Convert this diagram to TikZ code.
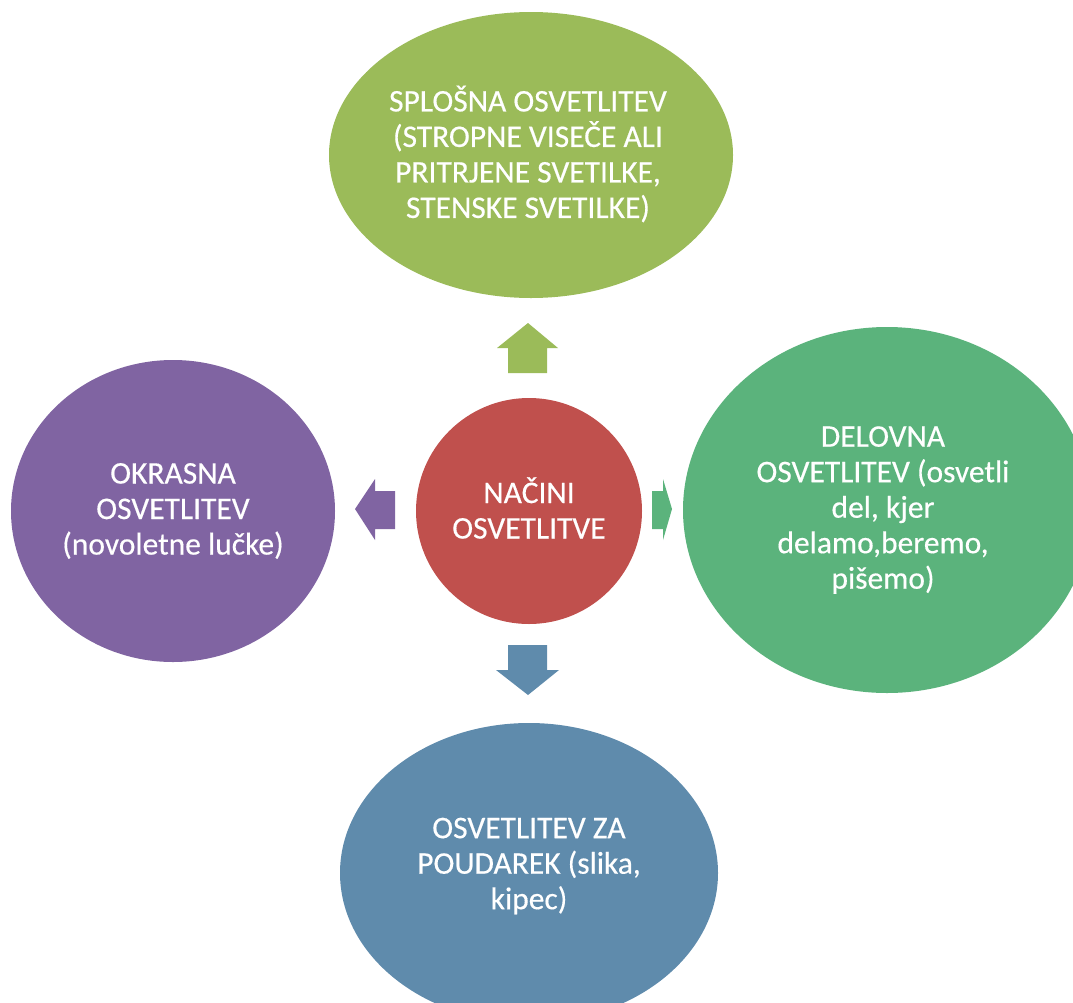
\documentclass[tikz,border=0pt]{standalone}
\usepackage{fontspec}
\setmainfont{Carlito}[UprightFeatures={FakeBold=0.4}]
\usetikzlibrary{shapes.geometric}
\definecolor{cgreen}{RGB}{155,187,89}
\definecolor{cred}{RGB}{192,80,77}
\definecolor{cpurple}{RGB}{128,100,162}
\definecolor{cmint}{RGB}{91,179,124}
\definecolor{cblue}{RGB}{95,139,172}
\tikzset{
  bubble/.style={ellipse, inner sep=0pt},
  label text/.style={text=white, align=center, font=\fontsize{31.5}{35.5}\selectfont},
}
\begin{document}
\begin{tikzpicture}[x=1pt,y=-1pt]
\useasboundingbox (0,0) rectangle (1073,1002);
\clip (0,0) rectangle (1073,1002);
% outer bubbles
\node[bubble, fill=cgreen, minimum width=404pt, minimum height=286pt] (top) at (531,155) {};
\node[label text] (toptext) at (528,154)
  {SPLOŠNA OSVETLITEV\\(STROPNE VISEČE ALI\\PRITRJENE SVETILKE,\\STENSKE SVETILKE)};
\node[bubble, fill=cpurple, minimum width=324pt, minimum height=302pt] (left) at (173,511) {};
\node[label text] (lefttext) at (173,511)
  {OKRASNA\\OSVETLITEV\\(novoletne lučke)};
\node[bubble, fill=cmint, minimum width=408pt, minimum height=366pt] (right) at (887,510) {};
\node[label text] (righttext) at (883,510)
  {DELOVNA\\OSVETLITEV (osvetli\\del, kjer\\delamo,beremo,\\pišemo)};
\node[bubble, fill=cblue, minimum width=378pt, minimum height=300pt] (bottom) at (529,873) {};
\node[label text] (bottomtext) at (529,866)
  {OSVETLITEV ZA\\POUDAREK (slika,\\kipec)};
% centre
\node[bubble, fill=cred, minimum width=226pt, minimum height=226pt] (center) at (529,511) {};
\node[label text] (centertext) at (529,508)
  {NAČINI\\OSVETLITVE};
% block arrows
\fill[cgreen] (508,373) -- (508,348) -- (497,348) -- (528,323) -- (558,348) -- (547,348) -- (547,373) -- cycle;
\fill[cblue] (508,645) -- (508,670) -- (496,670) -- (528,695) -- (559,670) -- (547,670) -- (547,645) -- cycle;
\fill[cpurple] (395,491) -- (375,491) -- (375,479) -- (355,509) -- (375,540) -- (375,529) -- (395,529) -- cycle;
\fill[cmint] (652,491) -- (663,491) -- (663,479) -- (672,509) -- (663,540) -- (663,529) -- (652,529) -- cycle;
\end{tikzpicture}
\end{document}
